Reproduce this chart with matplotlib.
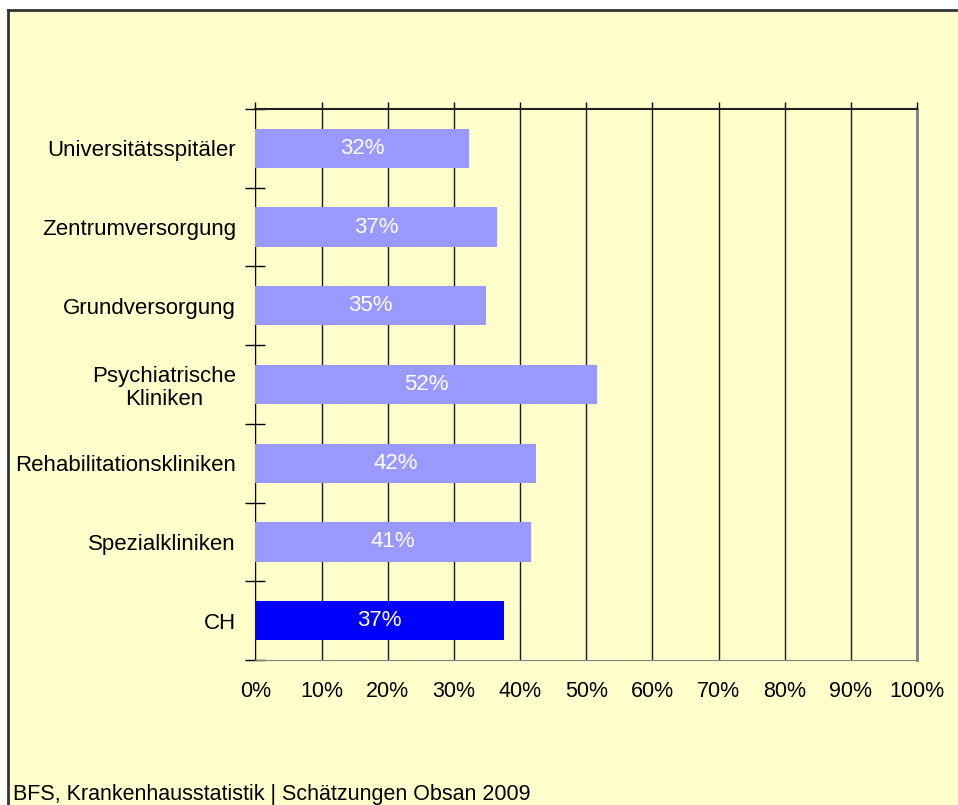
import matplotlib.pyplot as plt
from matplotlib.patches import Rectangle
from matplotlib.ticker import FixedLocator, PercentFormatter

plt.rcParams["font.family"] = ["Liberation Sans", "DejaVu Sans"]

categories = [
    "Universitätsspitäler",
    "Zentrumversorgung",
    "Grundversorgung",
    "Psychiatrische\nKliniken",
    "Rehabilitationskliniken",
    "Spezialkliniken",
    "CH",
]
values = [32.3, 36.5, 34.8, 51.6, 42.4, 41.6, 37.5]
bar_labels = ["32%", "37%", "35%", "52%", "42%", "41%", "37%"]
colors = ["#9999FF"] * 6 + ["#0000FF"]
x_ticks = list(range(0, 101, 10))

W, H = 958, 805
bg = "#FFFFCC"

fig = plt.figure(figsize=(W / 100, H / 100), dpi=100, facecolor="white")

# yellow chart area with a frame on left and top
fig.add_artist(Rectangle((8 / W, 0), 1, 1 - 10 / H, transform=fig.transFigure,
                         facecolor=bg, edgecolor="none", zorder=-10))
fig.add_artist(plt.Line2D([8 / W, 8 / W], [0, 1 - 10 / H], transform=fig.transFigure,
                          color="#333333", lw=2, zorder=-5))
fig.add_artist(plt.Line2D([8 / W, 1], [1 - 10 / H, 1 - 10 / H], transform=fig.transFigure,
                          color="#333333", lw=2, zorder=-5))

ax = fig.add_axes([255.5 / W, 1 - 660 / H, (917 - 255.5) / W, (660 - 109) / H])
ax.set_facecolor(bg)

pos = list(range(len(categories)))
bars = ax.barh(pos, values, height=0.5, color=colors, zorder=3)
ax.bar_label(bars, labels=bar_labels, label_type="center", color="white",
             fontsize=16)

ax.set_xlim(0, 100)
ax.set_ylim(len(categories) - 0.5, -0.5)

ax.xaxis.set_major_locator(FixedLocator(x_ticks))
ax.xaxis.set_major_formatter(PercentFormatter(decimals=0))
ax.grid(axis="x", color="#1a1a1a", lw=1, zorder=1)
ax.tick_params(axis="x", top=True, bottom=False, labeltop=False, labelbottom=True,
               direction="out", length=5, width=1, pad=10, labelsize=15.5)

# category boundaries as major ticks, names on minor ticks
ax.yaxis.set_major_locator(FixedLocator([p - 0.5 for p in pos] + [pos[-1] + 0.5]))
ax.yaxis.set_major_formatter(plt.NullFormatter())
ax.set_yticks(pos, minor=True)
ax.set_yticklabels(categories, minor=True, fontsize=16, multialignment="center",
                   linespacing=1.1)
ax.tick_params(axis="y", which="major", direction="inout", length=14, width=1)
ax.tick_params(axis="y", which="minor", length=0, pad=14)

ax.spines["left"].set_color("black")
ax.spines["top"].set_color("#222222")
ax.spines["top"].set_linewidth(1.5)
ax.spines["bottom"].set_color("#808080")
ax.spines["right"].set_color("#808080")
ax.spines["right"].set_linewidth(2)

fig.text(13 / W, 5 / H, "BFS, Krankenhausstatistik | Schätzungen Obsan 2009",
         fontsize=15.5, ha="left", va="baseline")

fig.savefig("out.png", dpi=100, facecolor=fig.get_facecolor())
